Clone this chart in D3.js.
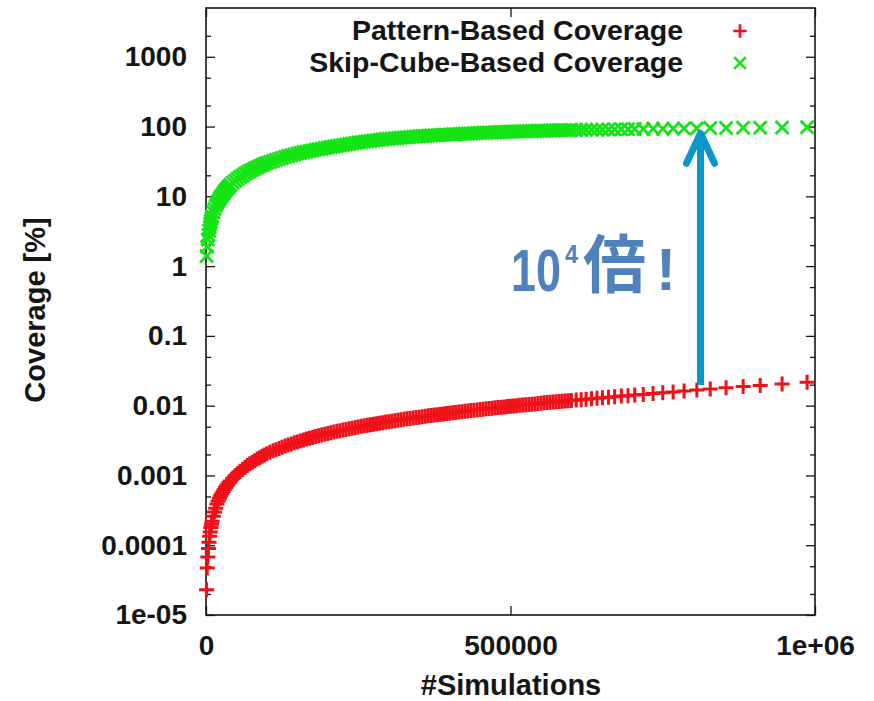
<!DOCTYPE html>
<html>
<head>
<meta charset="utf-8">
<script src="https://cdn.jsdelivr.net/npm/d3@7/dist/d3.min.js"></script>
<style>
  html, body { margin: 0; padding: 0; background: #ffffff; }
  svg { display: block; }
</style>
</head>
<body>
<svg id="chart" width="874" height="701"></svg>
<script>
// ---------------- DATA ----------------
// number of simulations (in thousands)
const simulationsK = [
  1,2,3,4,5,6,7,8,9,10,
  12,14,16,18,20,22,24,26,28,30,32,34,36,38,40,
  44,48,52,56,60,64,68,72,76,80,84,88,92,96,100,
  105,110,115,120,125,130,135,140,145,150,155,160,165,170,175,180,185,190,195,200,
  205,210,215,220,225,230,235,240,245,250,255,260,265,270,275,280,285,290,295,300,
  305,310,315,320,325,330,335,340,345,350,355,360,365,370,375,380,385,390,395,400,
  405,410,415,420,425,430,435,440,445,450,455,460,465,470,475,480,485,490,495,500,
  505,510,515,520,525,530,535,540,545,550,555,560,565,570,575,580,585,590,595,600,
  608,616,624,633,642,651,661,671,682,693,704,718,734,750,767,785,806,828,854,882,910,946,987
];
// Pattern-Based Coverage [%]
const patternCoverage = [
  0.000023,0.000047,0.000068,0.00009,0.00011,0.000135,0.000155,0.00018,0.0002,0.00022,
  0.00026,0.0003,0.00034,0.00039,0.00043,0.00047,0.00051,0.00055,0.00059,0.00063,0.00067,0.00071,0.00075,0.00079,0.00083,
  0.00091,0.00099,0.00107,0.00115,0.00123,0.00131,0.00139,0.00147,0.00155,0.00163,0.00172,0.0018,0.00188,0.00197,0.00205,
  0.00215,0.00225,0.00234,0.00244,0.00254,0.00264,0.00273,0.00283,0.00293,0.00302,0.00312,0.00322,0.00332,0.00341,0.00351,0.00361,0.0037,0.0038,0.0039,0.004,
  0.0041,0.00419,0.00429,0.00438,0.00448,0.00457,0.00467,0.00476,0.00486,0.00495,0.00505,0.00514,0.00524,0.00533,0.00543,0.00552,0.00562,0.00571,0.00581,0.0059,
  0.006,0.00609,0.00619,0.00628,0.00638,0.00647,0.00657,0.00666,0.00676,0.00685,0.00695,0.00704,0.00714,0.00723,0.00733,0.00742,0.00752,0.00761,0.00771,0.0078,
  0.0079,0.008,0.0081,0.0082,0.0083,0.0084,0.0085,0.0086,0.0087,0.0088,0.0089,0.009,0.0091,0.0092,0.0093,0.0094,0.0095,0.0096,0.0097,0.0098,
  0.0099,0.01,0.0101,0.0102,0.0103,0.0104,0.0105,0.0106,0.0107,0.0108,0.011,0.0111,0.0112,0.0113,0.0114,0.0115,0.0116,0.0117,0.0118,0.0119,
  0.0121,0.0122,0.0124,0.0126,0.0128,0.013,0.0132,0.0134,0.0137,0.0139,0.0142,0.0145,0.0149,0.0153,0.0157,0.0162,0.0168,0.0173,0.018,0.0188,0.0195,0.0204,0.0216
];
// Skip-Cube-Based Coverage [%]
const skipCubeCoverage = [
  1.4,1.9,2.4,2.8,3.2,3.6,4.0,4.4,4.8,5.2,
  5.9,6.6,7.3,7.9,8.5,9.1,9.7,10.3,10.9,11.5,12.1,12.7,13.3,13.9,14.5,
  15.6,16.7,17.8,18.9,19.9,21,22,23,24,25,26,27,28,29,30,
  31.1,32.2,33.3,34.4,35.5,36.6,37.7,38.8,39.9,41,41.9,42.8,43.7,44.6,45.5,46.4,47.3,48.2,49.1,50,
  50.9,51.8,52.7,53.6,54.5,55.4,56.2,57.1,58,59,59.8,60.6,61.4,62.2,63,63.8,64.6,65.4,66.2,67,
  67.6,68.1,68.7,69.2,69.8,70.3,70.9,71.4,72,72.5,73,73.4,73.9,74.3,74.8,75.2,75.7,76.1,76.6,77,
  77.4,77.8,78.2,78.6,79,79.4,79.8,80.2,80.6,81,81.4,81.7,82.1,82.4,82.8,83.1,83.5,83.8,84.2,84.5,
  84.8,85,85.3,85.5,85.8,86,86.3,86.5,86.8,87,87.2,87.4,87.6,87.8,88,88.2,88.4,88.6,88.8,89,
  89.2,89.4,89.7,89.9,90.2,90.5,90.8,91.1,91.4,91.7,92,92.4,92.8,93.2,93.6,94,94.5,95,95.5,96,96.4,96.9,97.5
];
const seriesNames = ["Pattern-Based Coverage", "Skip-Cube-Based Coverage"];
const yTickValues = [1e-5, 1e-4, 1e-3, 1e-2, 1e-1, 1, 10, 100, 1000];
const yTickLabels = ["1e-05", "0.0001", "0.001", "0.01", "0.1", "1", "10", "100", "1000"];
const xTickValues = [0, 500000, 1000000];
const xTickLabels = ["0", "500000", "1e+06"];
const xTitle = "#Simulations";
const yTitle = "Coverage [%]";
// annotation: arrow from pattern curve up to skip-cube curve
const arrowSims = 812000;
const arrowFrom = 0.0198;
const arrowTo = 80;

// ---------------- CHART ----------------
const svg = d3.select("#chart");
const mLeft = 206, mRight = 815, mTop = 8, mBottom = 615;
const FONT = "'Liberation Sans', Arial, Helvetica, sans-serif";
const INK = "#151515";

const x = d3.scaleLinear().domain([0, 1000000]).range([mLeft, mRight]);
const y = d3.scaleLog().domain([1e-5, 5000]).range([mBottom, mTop]);

svg.append("rect").attr("width", 874).attr("height", 701).attr("fill", "#fff");

// minor ticks at 2 and 5 of each decade
const minorTicks = [];
for (let e = -5; e <= 3; e++) { [2, 5].forEach(m => { const v = m * Math.pow(10, e); if (v < 5000) minorTicks.push(v); }); }

function styleAxis(g) {
  g.select(".domain").remove();
  g.selectAll(".tick line").attr("stroke", INK).attr("stroke-width", 1.3);
  g.selectAll("text").attr("font-family", FONT).attr("font-weight", "bold")
    .attr("font-size", 28).attr("fill", INK);
}

// left major
svg.append("g").attr("transform", `translate(${mLeft},0)`)
  .call(d3.axisLeft(y).tickValues(yTickValues).tickSize(-9).tickPadding(19)
    .tickFormat((d, i) => yTickLabels[i]))
  .call(styleAxis);
// left minor
svg.append("g").attr("transform", `translate(${mLeft},0)`)
  .call(d3.axisLeft(y).tickValues(minorTicks).tickSize(-5).tickFormat(""))
  .call(styleAxis);
// right major/minor
svg.append("g").attr("transform", `translate(${mRight},0)`)
  .call(d3.axisRight(y).tickValues(yTickValues).tickSize(-9).tickFormat(""))
  .call(styleAxis);
svg.append("g").attr("transform", `translate(${mRight},0)`)
  .call(d3.axisRight(y).tickValues(minorTicks).tickSize(-5).tickFormat(""))
  .call(styleAxis);
// bottom
svg.append("g").attr("transform", `translate(0,${mBottom})`)
  .call(d3.axisBottom(x).tickValues(xTickValues).tickSize(-9).tickPadding(20)
    .tickFormat((d, i) => xTickLabels[i]))
  .call(styleAxis);
// top
svg.append("g").attr("transform", `translate(0,${mTop})`)
  .call(d3.axisTop(x).tickValues(xTickValues).tickSize(-9).tickFormat(""))
  .call(styleAxis);

// frame
svg.append("rect").attr("x", mLeft).attr("y", mTop)
  .attr("width", mRight - mLeft).attr("height", mBottom - mTop)
  .attr("fill", "none").attr("stroke", INK).attr("stroke-width", 1.6);

// titles
svg.append("text").attr("x", 511).attr("y", 695).attr("text-anchor", "middle")
  .attr("font-family", FONT).attr("font-weight", "bold").attr("font-size", 29).attr("fill", INK)
  .text(xTitle);
svg.append("text").attr("transform", "translate(45,310) rotate(-90)").attr("text-anchor", "middle")
  .attr("font-family", FONT).attr("font-weight", "bold").attr("font-size", 29).attr("fill", INK)
  .text(yTitle);

// markers
const RED = "#f01018", GREEN = "#14e414";
const plusPath = "M-7.5,0H7.5M0,-7.5V7.5";
const crossPath = "M-6.5,-6.5L6.5,6.5M-6.5,6.5L6.5,-6.5";

const gGreen = svg.append("g");
gGreen.selectAll("path").data(simulationsK).join("path")
  .attr("d", crossPath)
  .attr("transform", (d, i) => `translate(${x(d * 1000)},${y(skipCubeCoverage[i])})`)
  .attr("stroke", GREEN).attr("stroke-width", 2.8).attr("fill", "none");

const gRed = svg.append("g");
gRed.selectAll("path").data(simulationsK).join("path")
  .attr("d", plusPath)
  .attr("transform", (d, i) => `translate(${x(d * 1000)},${y(patternCoverage[i])})`)
  .attr("stroke", RED).attr("stroke-width", 3).attr("fill", "none");

// legend
seriesNames.forEach((name, i) => {
  const ly = 40 + i * 32;
  svg.append("text").attr("x", 683).attr("y", ly).attr("text-anchor", "end")
    .attr("font-family", FONT).attr("font-weight", "bold").attr("font-size", 28.5).attr("fill", INK)
    .text(name);
  svg.append("path").attr("d", i === 0 ? plusPath : crossPath)
    .attr("transform", `translate(740,${ly - 9}) scale(0.9)`)
    .attr("stroke", i === 0 ? RED : GREEN).attr("stroke-width", 3).attr("fill", "none");
});

// annotation arrow
const ARROW = "#0a98cc";
const ax = x(arrowSims);
svg.append("line").attr("x1", ax).attr("x2", ax)
  .attr("y1", y(arrowFrom)).attr("y2", y(arrowTo) + 2)
  .attr("stroke", ARROW).attr("stroke-width", 7);
svg.append("path")
  .attr("d", `M${ax - 14},${y(arrowTo) + 30}L${ax},${y(arrowTo)}L${ax + 14},${y(arrowTo) + 30}`)
  .attr("stroke", ARROW).attr("stroke-width", 7).attr("fill", "none")
  .attr("stroke-linecap", "round").attr("stroke-linejoin", "round");

// annotation text "10^4倍!"
const ANN = "#4f81bd";
const annText = (s, tx, ty, size, sx, family) => svg.append("text")
  .attr("transform", `translate(${tx},${ty}) scale(${sx},1)`)
  .attr("font-family", family || FONT).attr("font-weight", "bold")
  .attr("font-size", size).attr("fill", ANN).text(s);
annText("10", 511, 291, 60, 0.75);
annText("4", 565, 263, 26, 0.9);
annText("倍", 583, 287, 63, 1, "'Noto Sans CJK JP', 'Noto Sans CJK SC', sans-serif");
annText("!", 656, 290, 60, 1);
</script>
</body>
</html>
